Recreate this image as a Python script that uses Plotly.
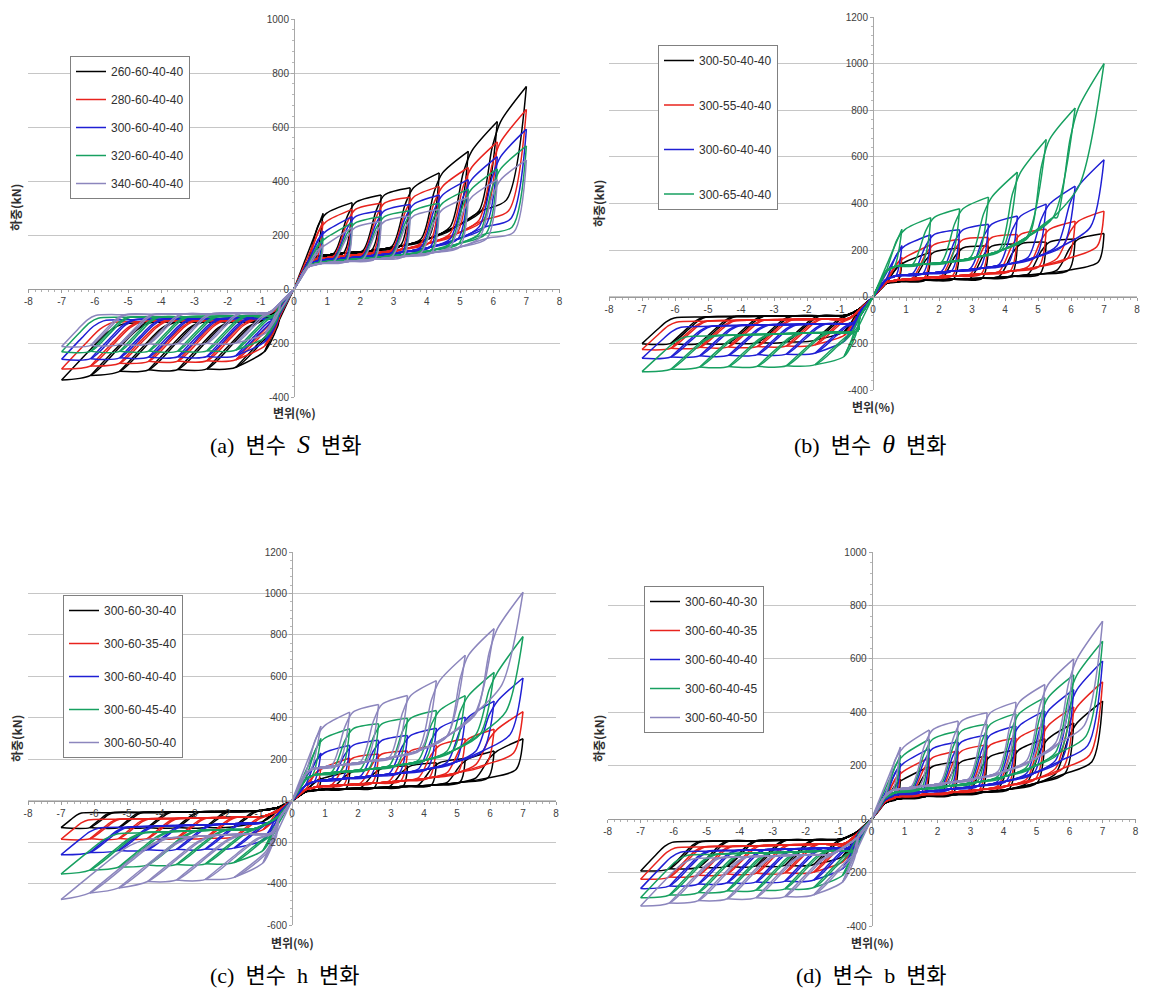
import plotly.graph_objects as go

# ---------------- data ----------------
AMP = [0.875, 1.75, 2.625, 3.5, 4.375, 5.25, 6.125, 7.0]   # cycle amplitudes (%)
X_TICKS = list(range(-8, 9))

# (a) 변수 S
A_NAMES = ["260-60-40-40", "280-60-40-40", "300-60-40-40", "320-60-40-40", "340-60-40-40"]
A_POS_PEAK = [[280, 320, 348, 375, 430, 510, 620, 750],
              [250, 295, 318, 340, 380, 450, 545, 665],
              [215, 268, 290, 313, 348, 405, 490, 592],
              [190, 245, 268, 290, 318, 370, 445, 530],
              [165, 228, 250, 270, 295, 340, 405, 478]]
A_POS_LOW = [[95, 118, 132, 142, 158, 185, 230, 290, 330],
             [90, 110, 122, 132, 146, 170, 205, 255, 290],
             [85, 104, 114, 124, 136, 155, 185, 230, 260],
             [82, 98, 107, 116, 127, 143, 168, 205, 230],
             [80, 94, 102, 110, 120, 134, 155, 188, 210]]
A_NEG_PEAK = [[-230, -290, -296, -298, -299, -305, -320, -337],
              [-210, -262, -266, -267, -268, -275, -285, -296],
              [-195, -247, -250, -251, -252, -255, -258, -260],
              [-180, -226, -229, -230, -230, -231, -231, -232],
              [-165, -200, -201, -202, -203, -205, -209, -213]]
A_NEG_RET = [[-70, -110, -115, -118, -120, -121, -122, -124, -130],
             [-65, -105, -112, -115, -117, -118, -119, -121, -125],
             [-60, -98, -105, -108, -110, -111, -112, -114, -118],
             [-55, -90, -97, -100, -102, -103, -104, -105, -108],
             [-50, -80, -87, -90, -92, -93, -94, -95, -98]]

# (b) 변수 θ
B_NAMES = ["300-50-40-40", "300-55-40-40", "300-60-40-40", "300-65-40-40"]
B_POS_PEAK = [[150, 192, 210, 218, 227, 235, 248, 272],
              [170, 224, 246, 255, 268, 290, 325, 368],
              [220, 267, 288, 312, 347, 398, 475, 588],
              [290, 340, 378, 428, 535, 675, 810, 1000]]
B_POS_LOW = [[58, 66, 72, 76, 80, 88, 98, 115, 150],
             [62, 72, 82, 90, 98, 110, 130, 165, 215],
             [75, 90, 100, 110, 122, 140, 170, 220, 300],
             [110, 130, 140, 150, 170, 200, 255, 340, 480]]
B_NEG_PEAK = [[-150, -185, -192, -195, -197, -198, -199, -200],
              [-165, -205, -210, -212, -214, -216, -220, -225],
              [-190, -240, -245, -247, -250, -252, -257, -263],
              [-255, -290, -295, -297, -298, -300, -310, -320]]
B_NEG_RET = [[-50, -72, -78, -80, -82, -83, -84, -86, -90],
             [-55, -82, -92, -95, -97, -99, -101, -104, -108],
             [-65, -95, -110, -115, -118, -120, -122, -126, -130],
             [-85, -125, -145, -152, -156, -160, -163, -167, -172]]

# (c) 변수 h
C_NAMES = ["300-60-30-40", "300-60-35-40", "300-60-40-40", "300-60-45-40", "300-60-50-40"]
C_POS_PEAK = [[110, 140, 155, 168, 183, 203, 240, 299],
              [160, 206, 225, 240, 267, 299, 345, 430],
              [230, 267, 291, 315, 350, 403, 480, 592],
              [300, 347, 371, 398, 435, 507, 619, 792],
              [360, 427, 464, 507, 579, 702, 830, 1006]]
C_POS_LOW = [[42, 52, 58, 62, 68, 75, 88, 110, 150],
             [52, 66, 76, 84, 95, 110, 135, 175, 230],
             [72, 92, 106, 118, 132, 152, 185, 240, 320],
             [100, 122, 138, 152, 170, 195, 240, 320, 430],
             [125, 150, 170, 188, 210, 245, 310, 420, 560]]
C_NEG_PEAK = [[-100, -125, -128, -129, -129, -130, -130, -130],
              [-140, -175, -180, -181, -182, -183, -184, -186],
              [-190, -228, -233, -235, -237, -240, -250, -261],
              [-240, -298, -305, -308, -310, -320, -335, -354],
              [-300, -370, -380, -383, -390, -421, -445, -477]]
C_NEG_RET = [[-32, -45, -50, -52, -54, -56, -57, -58, -60],
             [-45, -65, -75, -80, -84, -86, -88, -90, -93],
             [-60, -88, -102, -110, -116, -120, -124, -128, -133],
             [-75, -110, -126, -134, -140, -145, -150, -155, -160],
             [-90, -130, -145, -155, -162, -168, -174, -180, -188]]

# (d) 변수 b
D_NAMES = ["300-60-40-30", "300-60-40-35", "300-60-40-40", "300-60-40-45", "300-60-40-50"]
D_POS_PEAK = [[150, 197, 215, 235, 260, 301, 360, 442],
              [180, 230, 255, 278, 305, 350, 420, 514],
              [210, 264, 289, 315, 349, 405, 485, 592],
              [240, 299, 330, 355, 395, 455, 540, 666],
              [270, 334, 367, 398, 438, 504, 600, 741]]
D_POS_LOW = [[60, 75, 85, 92, 100, 112, 135, 170, 215],
             [65, 82, 92, 100, 110, 125, 150, 190, 240],
             [72, 90, 102, 112, 124, 142, 172, 220, 275],
             [78, 98, 112, 124, 138, 160, 195, 250, 310],
             [85, 108, 122, 136, 152, 178, 220, 285, 350]]
D_NEG_PEAK = [[-140, -170, -173, -175, -176, -180, -186, -194],
              [-160, -198, -201, -203, -205, -210, -217, -225],
              [-185, -228, -232, -235, -238, -243, -250, -260],
              [-210, -256, -261, -265, -268, -275, -284, -294],
              [-235, -283, -290, -294, -298, -305, -314, -325]]
D_NEG_RET = [[-45, -68, -74, -77, -79, -81, -82, -84, -87],
             [-50, -82, -90, -94, -97, -100, -102, -104, -108],
             [-55, -94, -104, -109, -112, -115, -117, -120, -124],
             [-60, -104, -114, -119, -123, -126, -128, -132, -136],
             [-65, -114, -124, -130, -134, -138, -141, -145, -150]]

CAPTIONS = ["(a)  변수  <span style='font-size:26px'><i>S</i></span>  변화",
            "(b)  변수  <span style='font-size:26px'><i>θ</i></span>  변화",
            "(c)  변수  h  변화",
            "(d)  변수  b  변화"]

# ---------------- styling / geometry ----------------
W, H = 1163, 1006
OFF = 8   # the page body adds an 8px margin; pixel targets below are compensated by it
COLORS5 = ['#000000', '#e8231d', '#1f1fd4', '#17a060', '#8c86bd']
COLORS4 = ['#000000', '#e8231d', '#1f1fd4', '#17a060']
KU = 700.0   # drawing slope for unloading branches (positive side)
KN = 130.0   # drawing slope for unloading branches (negative side)

PANELS = [
    dict(names=A_NAMES, pp=A_POS_PEAK, pl=A_POS_LOW, nn=A_NEG_PEAK, nr=A_NEG_RET, colors=COLORS5,
         xpx=(28.4, 559.6), ypx=(19, 397), yr=(-400, 1000),
         leg=(70, 56), gap=9, ytitle=(16, 208), xtitle=(294, 412), cap=(285, 445)),
    dict(names=B_NAMES, pp=B_POS_PEAK, pl=B_POS_LOW, nn=B_NEG_PEAK, nr=B_NEG_RET, colors=COLORS4,
         xpx=(609, 1137), ypx=(17, 390.3), yr=(-400, 1200),
         leg=(658, 45), gap=25.5, ytitle=(598, 204), xtitle=(873, 406), cap=(870, 445)),
    dict(names=C_NAMES, pp=C_POS_PEAK, pl=C_POS_LOW, nn=C_NEG_PEAK, nr=C_NEG_RET, colors=COLORS5,
         xpx=(28, 556), ypx=(552, 925), yr=(-600, 1200),
         leg=(63, 595), gap=14, ytitle=(16, 739), xtitle=(292, 942), cap=(284, 975)),
    dict(names=D_NAMES, pp=D_POS_PEAK, pl=D_POS_LOW, nn=D_NEG_PEAK, nr=D_NEG_RET, colors=COLORS5,
         xpx=(607.6, 1135.6), ypx=(552, 926), yr=(-400, 1000),
         leg=(644, 586), gap=10, ytitle=(598, 739), xtitle=(872, 942), cap=(871, 975)),
]


def px_x(v):
    return (v - OFF) / W


def px_y(v):
    return 1 - (v - OFF) / H


def build_path(pp, pl, nn, nr):
    """Walk the cyclic loading history; break the line at every peak so corners stay sharp."""
    pos_land = []
    for k, a in enumerate(AMP):
        L = pl[k + 1]
        du = (pp[k] - L) / KU
        pos_land.append((max(a - du, 0.5), L))
    neg_unl = []
    for k, a in enumerate(AMP):
        R = nr[k + 1]
        N = nn[k]
        rise = R - N
        dn1 = 0.55 * rise / KN
        land = min(-a + 2.1 * dn1, -0.45)
        mid2 = min(-a + 1.6 * dn1, land - 0.1)
        mid1 = min(-a + dn1, mid2 - 0.1)
        neg_unl.append([(mid1, N + 0.55 * rise), (mid2, N + 0.86 * rise), (land, R)])

    xs, ys = [], []

    def add(p):
        xs.append(p[0]); ys.append(p[1])

    def brk(p):
        xs.append(None); ys.append(None)
        add(p)

    add((0, 0))
    for k, a in enumerate(AMP):
        # positive reloading
        if k == 0:
            add((a, pp[0]))
        else:
            add((0.4, pl[0]))
            lx = 0.4
            start = AMP[k - 1] - 0.55
            for j in range(k):
                x, y = pos_land[j]
                if lx + 0.05 < x < start - 0.05:
                    add((x, y)); lx = x
            if start > lx + 0.05:
                add((start, pl[k]))
            L, P = pl[k], pp[k - 1]
            add((AMP[k - 1] - 0.15, L + 0.72 * (P - L)))
            add((AMP[k - 1] + 0.1, P))
            add((a, pp[k]))
        # positive unloading (new segment from the peak)
        brk((a, pp[k]))
        x0, y0 = pos_land[k]
        add((x0, y0))
        lx = x0
        for j in range(k - 1, -1, -1):
            x, y = pos_land[j]
            if 0.45 < x < lx - 0.05:
                add((x, y)); lx = x
        add((0.4, pl[0]))
        add((0, 0))
        # negative reloading: along the upper branch, then back down the previous unloading path
        if k == 0:
            add((-a, nn[0]))
        else:
            add((-0.4, nr[0]))
            lx = -0.4
            prev = [(p[0] + 0.07, p[1]) for p in neg_unl[k - 1]]
            for j in range(k - 1):
                x, y = neg_unl[j][2]
                if prev[2][0] + 0.05 < x < lx - 0.05:
                    add((x, y)); lx = x
            for p in reversed(prev):
                if p[0] < lx - 0.05:
                    add(p); lx = p[0]
            add((-AMP[k - 1], nn[k - 1]))
            add((-a, nn[k]))
        # negative unloading (new segment from the peak)
        brk((-a, nn[k]))
        for p in neg_unl[k]:
            add(p)
        lx = neg_unl[k][2][0]
        for j in range(k - 1, -1, -1):
            x, y = neg_unl[j][2]
            if lx + 0.05 < x < -0.45:
                add((x, y)); lx = x
        add((-0.4, nr[0]))
        add((0, 0))
    return xs, ys


fig = go.Figure()
layout = dict(width=W, height=H, margin=dict(l=0, r=0, t=0, b=0, autoexpand=False),
              paper_bgcolor='white', plot_bgcolor='white', showlegend=True,
              annotations=[])

TICKFONT = dict(family='Liberation Sans, Arial, sans-serif', size=10, color='#404040')

for i, P in enumerate(PANELS):
    n = '' if i == 0 else str(i + 1)
    xa, ya = 'x' + n, 'y' + n
    legname = 'legend' + n
    xd = [px_x(P['xpx'][0]), px_x(P['xpx'][1])]
    yd = [px_y(P['ypx'][1]), px_y(P['ypx'][0])]
    ymin, ymax = P['yr']
    zero_y = yd[0] + (0 - ymin) / (ymax - ymin) * (yd[1] - yd[0])
    zero_x = (xd[0] + xd[1]) / 2
    yt = list(range(ymin, ymax + 1, 200))
    layout['xaxis' + n] = dict(domain=xd, range=[-8, 8], anchor='free', position=zero_y,
                               showgrid=False, zeroline=False, showline=True, linecolor='#9a9a9a',
                               linewidth=1, tickvals=X_TICKS, ticktext=[str(v) for v in X_TICKS],
                               ticks='outside', ticklen=3, tickcolor='#9a9a9a', tickfont=TICKFONT,
                               minor=dict(dtick=0.2, ticks='outside', ticklen=2, tickcolor='#b0b0b0'),
                               fixedrange=True)
    layout['yaxis' + n] = dict(domain=yd, range=[ymin, ymax], anchor='free', position=zero_x,
                               showgrid=True, gridcolor='#c6c6c6', gridwidth=1, zeroline=False,
                               showline=True, linecolor='#a8a8a8', linewidth=1,
                               tickvals=yt, ticktext=[str(v) for v in yt],
                               ticks='outside', ticklen=3, tickcolor='#a8a8a8', tickfont=TICKFONT,
                               minor=dict(dtick=40, ticks='outside', ticklen=2, tickcolor='#b8b8b8'),
                               fixedrange=True)
    layout[legname] = dict(x=px_x(P['leg'][0]), y=px_y(P['leg'][1]), xanchor='left', yanchor='top',
                           bgcolor='white', bordercolor='#808080', borderwidth=1,
                           font=dict(family='Liberation Sans, Arial, sans-serif', size=12, color='#303030'),
                           tracegroupgap=P['gap'], itemwidth=30)
    for s, name in enumerate(P['names']):
        xs, ys = build_path(P['pp'][s], P['pl'][s], P['nn'][s], P['nr'][s])
        fig.add_trace(go.Scatter(x=xs, y=ys, mode='lines', name=name, xaxis=xa, yaxis=ya,
                                 legend=legname, legendgroup=f'{i}-{s}', connectgaps=False,
                                 line=dict(color=P['colors'][s], width=1.5, shape='spline', smoothing=0.8)))
    layout['annotations'].append(dict(x=px_x(P['ytitle'][0]), y=px_y(P['ytitle'][1]), xref='paper', yref='paper',
                                      xanchor='center', yanchor='middle',
                                      text='<b>하중(kN)</b>', textangle=-90, showarrow=False,
                                      font=dict(family='Noto Sans CJK KR', size=12, color='#303030')))
    layout['annotations'].append(dict(x=px_x(P['xtitle'][0]), y=px_y(P['xtitle'][1]), xref='paper', yref='paper',
                                      xanchor='center', yanchor='middle',
                                      text='<b>변위(%)</b>', showarrow=False,
                                      font=dict(family='Noto Sans CJK KR', size=12, color='#303030')))
    layout['annotations'].append(dict(x=px_x(P['cap'][0]), y=px_y(P['cap'][1]), xref='paper', yref='paper',
                                      xanchor='center', yanchor='middle',
                                      text=CAPTIONS[i], showarrow=False,
                                      font=dict(family='Liberation Serif, Noto Sans CJK KR', size=22, color='#000000')))

fig.update_layout(**layout)
fig.write_html('out.html')
